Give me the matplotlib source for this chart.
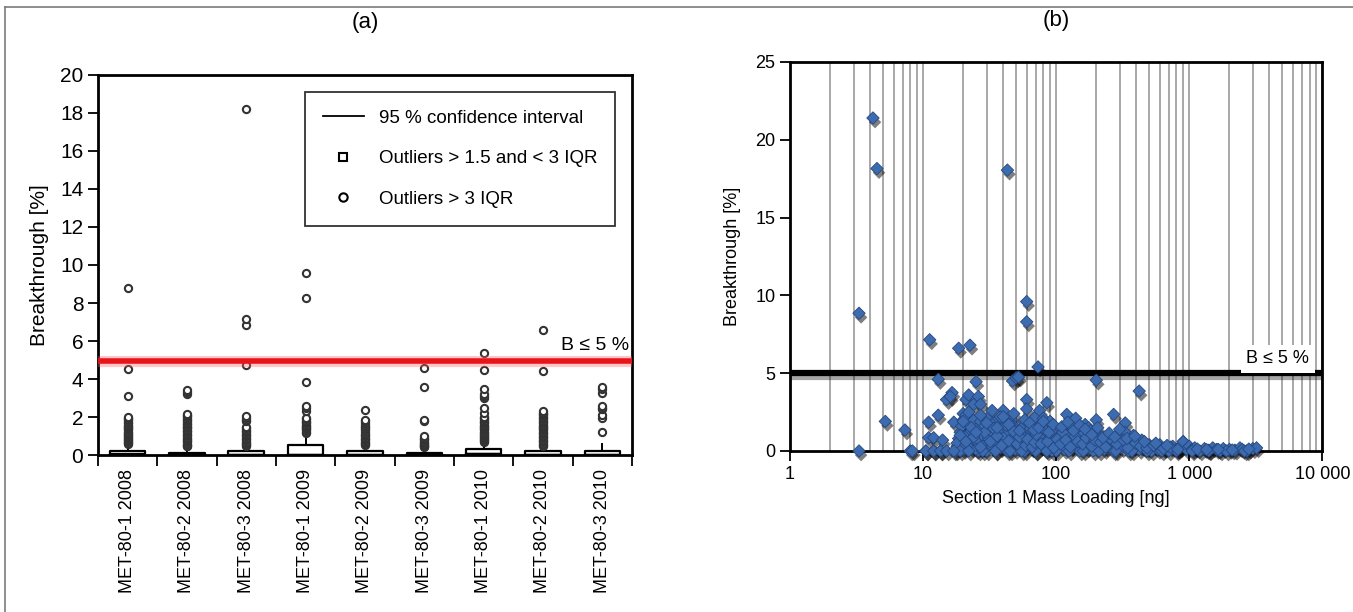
import numpy as np
import matplotlib.pyplot as plt
import matplotlib.patheffects as pe
from matplotlib.lines import Line2D
from matplotlib.ticker import FixedLocator, FixedFormatter, NullFormatter

plt.rcParams['font.family'] = ['Liberation Sans', 'DejaVu Sans']

# ---- panel (a): box plots ----
groups = ['MET-80-1 2008', 'MET-80-2 2008', 'MET-80-3 2008',
          'MET-80-1 2009', 'MET-80-2 2009', 'MET-80-3 2009',
          'MET-80-1 2010', 'MET-80-2 2010', 'MET-80-3 2010']
q1 = [0.03, 0.02, 0.02, 0.02, 0.02, 0.02, 0.05, 0.02, 0.02]
med = [0.06, 0.04, 0.05, 0.08, 0.05, 0.04, 0.10, 0.05, 0.05]
q3 = [0.22, 0.13, 0.22, 0.55, 0.22, 0.13, 0.33, 0.22, 0.22]
whi = [0.55, 0.45, 0.50, 1.10, 0.50, 0.35, 0.70, 0.50, 0.60]

outliers = [
    [0.6, 0.65, 0.7, 0.75, 0.8, 0.85, 0.9, 0.95, 1.0, 1.05, 1.1, 1.15, 1.2, 1.3, 1.35,
     1.4, 1.5, 1.55, 1.6, 1.7, 1.75, 1.85, 1.9, 1.95, 2.0, 3.1, 4.55, 8.8],
    [0.45, 0.5, 0.55, 0.6, 0.7, 0.75, 0.8, 0.85, 0.9, 1.0, 1.05, 1.1, 1.2, 1.25, 1.3,
     1.4, 1.45, 1.5, 1.6, 1.65, 1.7, 1.8, 1.85, 1.9, 2.0, 2.05, 2.1, 2.15, 3.2, 3.3, 3.4],
    [0.5, 0.55, 0.6, 0.65, 0.7, 0.8, 0.85, 0.9, 1.0, 1.05, 1.1, 1.2, 1.25, 1.3, 1.4,
     1.45, 1.8, 1.85, 1.95, 2.05, 4.75, 6.85, 7.15, 18.2],
    [1.15, 1.2, 1.3, 1.35, 1.4, 1.5, 1.55, 1.6, 1.7, 1.75, 1.8, 1.9, 1.95, 2.3, 2.5,
     2.6, 3.85, 8.25, 9.6],
    [0.55, 0.6, 0.65, 0.7, 0.8, 0.85, 0.9, 1.0, 1.05, 1.1, 1.2, 1.3, 1.35, 1.45, 1.5,
     1.6, 1.7, 1.8, 1.85, 2.35],
    [0.4, 0.45, 0.5, 0.55, 0.6, 0.65, 0.7, 0.8, 0.85, 0.9, 1.0, 1.8, 1.85, 3.6, 4.6],
    [0.7, 0.75, 0.8, 0.85, 0.9, 0.95, 1.0, 1.05, 1.1, 1.15, 1.2, 1.3, 1.35, 1.4, 1.5,
     1.55, 1.6, 1.7, 1.75, 1.8, 1.9, 1.95, 2.0, 2.2, 2.5, 3.0, 3.1, 3.2, 3.5, 4.45, 5.35],
    [0.5, 0.55, 0.6, 0.7, 0.75, 0.8, 0.9, 0.95, 1.0, 1.1, 1.15, 1.2, 1.3, 1.35, 1.4,
     1.5, 1.55, 1.6, 1.7, 1.75, 1.8, 1.9, 1.95, 2.0, 2.1, 2.15, 2.2, 2.3, 4.4, 6.6],
    [1.2, 1.95, 2.1, 2.4, 2.5, 2.6, 3.25, 3.45, 3.6],
]
limit = 5

# ---- panel (b): breakthrough vs mass loading ----
bx = [3.3, 4.2, 4.5, 43, 60, 60, 11.2, 18.5, 22.5, 73, 13, 25, 47, 50, 52, 200, 420,
      3.3, 5.2, 7.3, 8.0, 8.3, 10.5, 11, 11, 12, 12, 13, 14, 13.5, 15, 16.5, 16, 17,
      20, 20, 21, 22, 24, 26, 27, 40, 60, 60, 70, 75, 85, 80, 120, 140, 165, 200, 270,
      330, 900,
      17.5, 18, 18.5, 19, 19.5, 18, 20, 20, 19,
      21, 22, 22, 23, 24, 24, 25, 26, 26, 27, 28, 28, 29, 30, 30, 21, 23, 25,
      31, 32, 33, 34, 35, 35, 36, 37, 38, 39, 40, 41, 42, 43, 44, 45, 46, 47, 48, 49,
      50, 33, 38, 45,
      52, 54, 55, 57, 58, 60, 62, 63, 65, 67, 68, 70, 72, 74, 76, 78, 80, 83, 85, 88,
      90, 93, 95, 98, 55, 65, 75, 90,
      105, 110, 115, 120, 125, 130, 135, 140, 150, 155, 160, 170, 175, 180, 190, 200,
      210, 220, 230, 240, 250, 260, 270, 280, 290, 300, 130, 180, 240,
      310, 330, 350, 360, 380, 400, 420, 440, 460, 500, 520, 550, 580, 600, 650, 700,
      750, 800, 850, 900, 950, 1000, 330, 380, 450,
      1050, 1100, 1200, 1300, 1400, 1500, 1600, 1700, 1800, 2000, 2200, 2400, 2500,
      2700, 3000, 3200,
      10.5, 12, 13.5, 15, 17, 22, 28, 35, 45, 55, 70, 85, 100, 125, 160, 210, 280,
      370, 480, 620, 800, 1050, 1400, 1900, 2600,
      19, 21, 23, 24, 27, 29, 32, 34, 36, 39, 42, 44, 48, 51, 53, 56, 59, 61, 64, 66,
      69, 71, 77, 81, 86, 92, 96, 102, 108, 112, 118, 128, 138, 145, 158, 168, 185,
      195, 215, 235, 255, 285, 320, 345, 395, 430, 480, 540, 640, 720, 820, 1150, 1350,
      1650, 2100, 2800,
      20, 22, 25, 27, 30, 33, 36, 40, 44, 48, 53, 58, 63, 68, 74, 80, 88, 95, 110,
      122, 135, 150, 165, 185, 205, 225, 250, 275, 300, 340, 390, 460, 560, 680]
by = [8.85, 21.4, 18.15, 18.05, 9.6, 8.3, 7.15, 6.6, 6.8, 5.4, 4.6, 4.45, 4.5, 4.7, 4.75,
      4.55, 3.85,
      0.0, 1.9, 1.35, 0.0, 0.0, 0.0, 1.85, 0.85, 0.85, 0.0, 2.3, 0.7, 0.0, 3.3, 3.75,
      3.5, 1.85, 2.4, 2.0, 3.3, 3.6, 3.0, 3.5, 3.0, 2.6, 3.3, 2.7, 2.2, 2.6, 3.1, 2.1,
      2.35, 2.1, 1.7, 2.0, 2.35, 1.8, 0.6,
      0.0, 0.3, 0.8, 1.2, 1.6, 0.5, 0.1, 0.9, 0.0,
      0.4, 1.1, 1.7, 0.2, 0.7, 2.0, 1.4, 0.0, 0.5, 1.9, 1.0, 0.3, 1.6, 0.0, 2.1, 2.3,
      1.3, 0.1,
      0.8, 1.3, 0.3, 1.8, 0.0, 0.6, 2.0, 1.1, 0.2, 1.5, 0.5, 0.9, 1.9, 0.0, 1.3, 0.4,
      2.0, 0.8, 1.6, 0.1, 1.1, 1.7, 2.2, 1.7,
      0.3, 1.4, 0.7, 1.9, 0.0, 1.2, 0.5, 1.7, 0.2, 0.9, 1.5, 0.0, 0.6, 1.3, 0.3, 1.8,
      0.8, 0.1, 1.2, 0.5, 1.6, 0.0, 0.9, 0.3, 1.0, 1.1, 1.0, 1.9,
      1.4, 0.6, 0.1, 1.0, 1.7, 0.3, 0.8, 1.3, 0.0, 0.5, 1.1, 0.2, 1.5, 0.7, 0.0, 1.2,
      0.4, 0.9, 0.1, 0.6, 1.0, 0.3, 0.0, 0.7, 0.4, 1.1, 1.6, 1.3, 0.9,
      0.2, 0.6, 0.0, 0.9, 0.3, 0.5, 0.1, 0.7, 0.2, 0.4, 0.0, 0.3, 0.1, 0.4, 0.2, 0.0,
      0.3, 0.1, 0.2, 0.6, 0.1, 0.3, 1.2, 1.0, 0.4,
      0.1, 0.2, 0.0, 0.15, 0.05, 0.2, 0.1, 0.0, 0.15, 0.1, 0.05, 0.2, 0.1, 0.0, 0.15,
      0.2,
      0.0, 0.0, 0.0, 0.0, 0.0, 0.0, 0.0, 0.0, 0.0, 0.0, 0.0, 0.0, 0.0, 0.0, 0.0, 0.0,
      0.0, 0.0, 0.0, 0.0, 0.0, 0.0, 0.0, 0.0, 0.0,
      1.0, 0.6, 1.5, 0.9, 0.25, 1.2, 0.6, 1.45, 0.95, 0.35, 1.65, 0.65, 1.25, 0.45, 0.9,
      1.55, 0.35, 0.75, 1.45, 0.25, 0.55, 1.05, 0.45, 1.4, 0.6, 1.25, 0.2, 0.75, 0.45,
      1.2, 0.7, 0.25, 0.95, 0.6, 0.45, 0.85, 0.3, 0.7, 0.55, 0.25, 0.8, 0.45, 0.7, 0.2,
      0.5, 0.3, 0.2, 0.35, 0.15, 0.25, 0.1, 0.12, 0.08, 0.1, 0.06, 0.12,
      1.9, 2.5, 1.2, 2.3, 1.8, 2.6, 1.5, 2.2, 1.7, 2.4, 1.3, 2.0, 1.8, 1.35, 1.5, 1.9,
      1.2, 1.7, 1.55, 1.85, 1.3, 1.65, 1.4, 1.05, 1.5, 0.85, 1.15, 0.9, 1.4, 0.8, 0.95,
      0.6, 0.5, 0.35]
xticks_b = [1, 10, 100, 1000, 10000]
xticklabels_b = ['1', '10', '100', '1 000', '10 000']

fig = plt.figure(figsize=(13.53, 6.12), dpi=100)

# outer frame of the figure
fig.add_artist(Line2D([5 / 1353, 5 / 1353], [0, 1 - 7 / 612], transform=fig.transFigure,
                      color='#7a7a7a', lw=1.2))
fig.add_artist(Line2D([5 / 1353, 1], [1 - 7 / 612, 1 - 7 / 612], transform=fig.transFigure,
                      color='#7a7a7a', lw=1.2))

ax = fig.add_axes([0.0724, 0.2565, 0.3947, 0.621])
stats = []
for i in range(len(groups)):
    stats.append(dict(q1=q1[i], med=med[i], q3=q3[i], whislo=0.0, whishi=whi[i],
                      fliers=[]))
pos = np.arange(1, len(groups) + 1)
ax.bxp(stats, positions=pos, widths=0.6, showcaps=False, showfliers=False,
       boxprops=dict(color='k', lw=1.6), whiskerprops=dict(color='k', lw=1.4),
       medianprops=dict(color='k', lw=1.0), manage_ticks=False)
for i, vals in enumerate(outliers):
    ax.plot([pos[i]] * len(vals), vals, 'o', ms=5.2, mfc='white', mec='#333333',
            mew=1.5, zorder=3, clip_on=False)
ax.axhline(limit - 0.07, color='#ff6060', lw=8, alpha=0.35, zorder=4)
ax.axhline(limit - 0.07, color='#e8141c', lw=4, zorder=5)
ax.text(9.45, limit + 0.3, 'B ≤ 5 %', ha='right', va='bottom', fontsize=14)
ax.set_xlim(0.5, 9.5)
ax.set_ylim(0, 20)
ax.set_yticks(np.arange(0, 21, 2))
ax.xaxis.set_major_locator(FixedLocator(np.arange(0.5, 10, 1)))
ax.xaxis.set_major_formatter(NullFormatter())
ax.xaxis.set_minor_locator(FixedLocator(pos))
ax.xaxis.set_minor_formatter(FixedFormatter(groups))
ax.tick_params(axis='x', which='major', direction='out', length=8, width=1.3)
ax.tick_params(axis='x', which='minor', length=0, labelsize=13, labelrotation=90, pad=10)
ax.tick_params(axis='y', direction='out', length=7, width=1.3, labelsize=15)
for s in ax.spines.values():
    s.set_linewidth(2)
ax.set_ylabel('Breakthrough [%]', fontsize=15, labelpad=8)
ax.set_title('(a)', fontsize=16, pad=34)
handles = [Line2D([], [], color='k', lw=1.3),
           Line2D([], [], ls='none', marker='s', ms=6, mfc='white', mec='k', mew=1.5),
           Line2D([], [], ls='none', marker='o', ms=6, mfc='white', mec='k', mew=1.5)]
leg = ax.legend(handles, ['95 % confidence interval', 'Outliers > 1.5 and < 3 IQR',
                          'Outliers > 3 IQR'], loc='upper right', fontsize=13.5,
                frameon=True, fancybox=False, edgecolor='k', labelspacing=1.25,
                borderaxespad=0.9, handlelength=2.2, borderpad=0.95)
leg.get_frame().set_linewidth(1.3)

# ---- panel (b) ----
bx_ax = fig.add_axes([0.5839, 0.2631, 0.3935, 0.6356])
bx_ax.set_xscale('log')
bx_ax.set_xlim(1, 10000)
bx_ax.set_ylim(0, 25)
bx_ax.xaxis.grid(True, which='both', color='#a8a8a8', lw=1.4)
bx_ax.set_axisbelow(True)
bx_ax.set_xticks(xticks_b)
bx_ax.set_xticklabels(xticklabels_b)
bx_ax.set_yticks(np.arange(0, 26, 5))
bx_ax.tick_params(axis='x', which='minor', length=0)
bx_ax.tick_params(axis='both', which='major', direction='out', length=7, width=1.3,
                  labelsize=13)
for s in bx_ax.spines.values():
    s.set_linewidth(2)
shadow = [pe.SimplePatchShadow(offset=(1.5, -3), shadow_rgbFace='k', alpha=0.5),
          pe.Normal()]
bx_ax.axhline(limit, color='k', lw=4.5, zorder=3,
              path_effects=[pe.SimpleLineShadow(offset=(0, -2.5), alpha=0.35), pe.Normal()])
bx_ax.scatter(bx, by, marker='D', s=40, color='#3d6bb0', edgecolor='#24477f',
              linewidth=0.6, zorder=4, clip_on=False, path_effects=shadow)
bx_ax.text(0.975, 0.215, 'B ≤ 5 %', transform=bx_ax.transAxes, ha='right', va='bottom',
           fontsize=13, zorder=5,
           bbox=dict(facecolor='white', edgecolor='none', pad=4))
bx_ax.set_xlabel('Section 1 Mass Loading [ng]', fontsize=13, labelpad=5)
bx_ax.set_ylabel('Breakthrough [%]', fontsize=13, labelpad=10)
bx_ax.set_title('(b)', fontsize=16, pad=26)

fig.savefig('out.png', dpi=100)
